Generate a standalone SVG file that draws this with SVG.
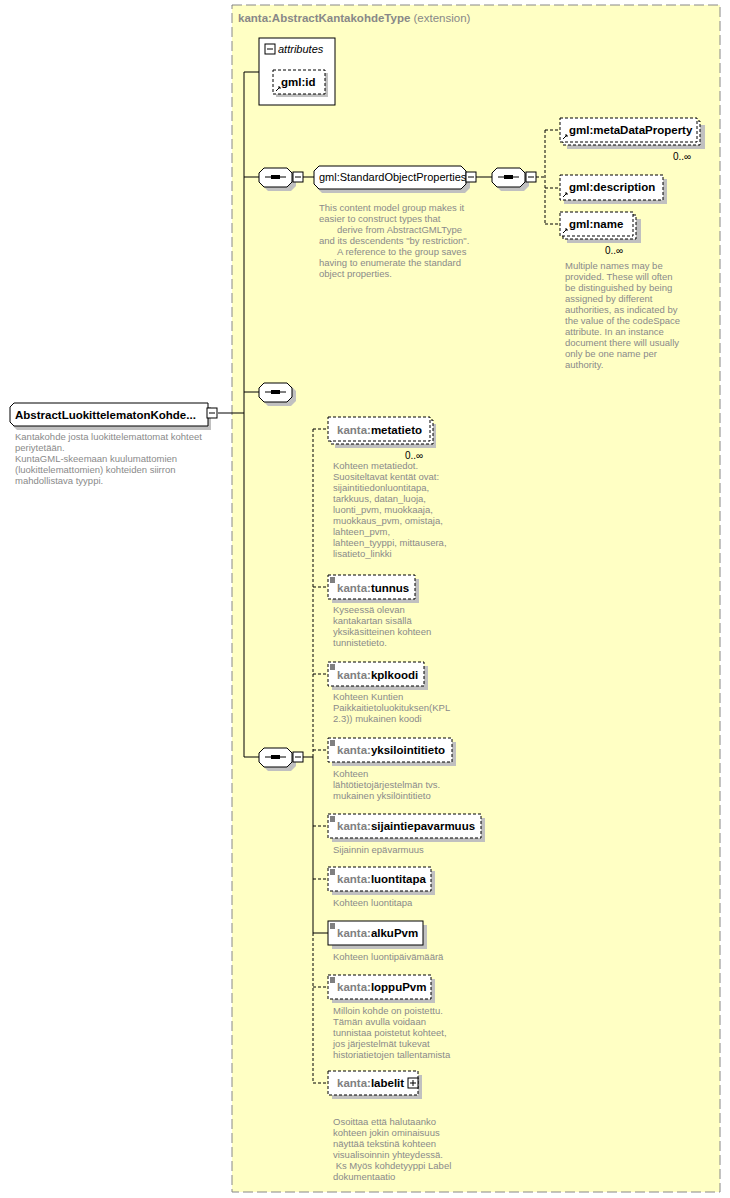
<svg xmlns="http://www.w3.org/2000/svg" width="730" height="1198" viewBox="0 0 730 1198">
<style>
text{font-family:"Liberation Sans",Arial,sans-serif}
.n{font-size:11.5px;font-weight:bold;fill:#000}
.p{fill:#808080}
.d{font-size:9.5px;fill:#8a8a8a}
.box{fill:#fff;stroke:#000;stroke-width:1}
.dash{stroke-dasharray:3,2}
.sh{fill:#c0c0c0}
.ln{stroke:#000;stroke-width:1;fill:none}
.dl{stroke:#000;stroke-width:1;fill:none;stroke-dasharray:3,2}
.btn{fill:#fff;stroke:#000}
</style>
<rect width="730" height="1198" fill="#fff"/>
<rect x="232" y="5" width="488" height="1187" fill="#ffffc4" stroke="#888" stroke-dasharray="10,4"/>
<text x="238" y="22" style="font-size:11.5px;font-weight:bold;fill:#888">kanta:AbstractKantakohdeType <tspan style="font-weight:normal">(extension)</tspan></text>

<g id="connectors">
<path class="ln" d="M244 72V757M244 72H259M244 177H259M244 392H259M244 757H259M218 413H244"/>
<path class="ln" d="M303 177H314M476 177H492"/>
<path class="dl" d="M536 177H545M545 130V224M545 130H560M545 188H560M545 224H560"/>
<path class="ln" d="M303 757H313M313 757V933H328"/>
<path class="dl" d="M313 429V757M313 933V1083M313 429H328M313 587H328M313 674H328M313 750H328M313 826H328M313 879H328M313 987H328M313 1083H328"/>
</g>

<g id="root">
<path class="sh" d="M17 407H211V430H17L13 426V411Z"/>
<path class="box" d="M14 403H208V426H14L10 422V407Z"/>
<text x="15" y="419" class="n">AbstractLuokittelematonKohde...</text>
<rect class="btn" x="207" y="408" width="10" height="10"/><path class="ln" d="M209 413H215"/>
<text class="d"><tspan x="15" y="440">Kantakohde josta luokittelemattomat kohteet</tspan><tspan x="15" y="451">periytetään.</tspan><tspan x="15" y="462">KuntaGML-skeemaan kuulumattomien</tspan><tspan x="15" y="473">(luokittelemattomien) kohteiden siirron</tspan><tspan x="15" y="484">mahdollistava tyyppi.</tspan></text>
</g>

<g id="attributes">
<rect class="box" x="259" y="38" width="76" height="67"/>
<rect class="btn" x="265" y="44" width="10" height="10"/><path class="ln" d="M267 49H273"/>
<text x="278" y="53" style="font-size:11px;font-style:italic">attributes</text>
<rect class="sh" x="276" y="73" width="52" height="24"/>
<rect class="box dash" x="273" y="70" width="52" height="24"/>
<text x="281" y="86" class="n">gml:id</text>
<path class="ln" d="M276 91L280 87M278 87H280V89" stroke-width="1.5"/>
</g>

<g id="seq1">
<path class="sh" d="M268 171H291L296 176V186L291 191H268L263 186V176Z"/>
<path class="box" d="M264 168H287L292 173V182L287 187H264L259 182V173Z"/>
<path class="ln" d="M265 177H286" stroke-width="1.5"/><rect x="271" y="175" width="9" height="4"/>
<rect class="btn" x="293" y="172" width="10" height="10"/><path class="ln" d="M295 177H301"/>
</g>

<g id="sop">
<path class="sh" d="M322 170H465L470 175V188L465 193H322L317 188V175Z"/>
<path class="box" d="M319 166H461L466 171V184L461 189H319L314 184V171Z"/>
<text x="319" y="181" style="font-size:11px">gml:StandardObjectProperties</text>
<rect class="btn" x="466" y="172" width="10" height="10"/><path class="ln" d="M468 177H474"/>
<text class="d"><tspan x="319" y="211">This content model group makes it</tspan><tspan x="319" y="222">easier to construct types that</tspan><tspan x="337" y="233">derive from AbstractGMLType</tspan><tspan x="319" y="244">and its descendents "by restriction".</tspan><tspan x="337" y="255">A reference to the group saves</tspan><tspan x="319" y="266">having to enumerate the standard</tspan><tspan x="319" y="277">object properties.</tspan></text>
</g>

<g id="seq2">
<path class="sh" d="M501 171H524L529 176V186L524 191H501L496 186V176Z"/>
<path class="box" d="M497 168H520L525 173V182L520 187H497L492 182V173Z"/>
<path class="ln" d="M498 177H519" stroke-width="1.5"/><rect x="504" y="175" width="9" height="4"/>
<rect class="btn" x="526" y="172" width="10" height="10"/><path class="ln" d="M528 177H534"/>
</g>

<g id="metaDataProperty">
<rect class="sh" x="567" y="125" width="138" height="24"/>
<rect class="box dash" x="563" y="121" width="137" height="24"/>
<rect class="box dash" x="560" y="118" width="137" height="24"/>
<text x="569" y="134" class="n">gml:metaDataProperty</text>
<path class="ln" d="M563 139L567 135M565 135H567V137" stroke-width="1.5"/>
<text x="673" y="160" style="font-size:10px">0..∞</text>
</g>
<g id="description">
<rect class="sh" x="564" y="179" width="103" height="25"/>
<rect class="box dash" x="560" y="175" width="103" height="25"/>
<text x="569" y="191" class="n">gml:description</text>
<path class="ln" d="M563 197L567 193M565 193H567V195" stroke-width="1.5"/>
</g>
<g id="name">
<rect class="sh" x="567" y="219" width="74" height="24"/>
<rect class="box dash" x="563" y="215" width="73" height="24"/>
<rect class="box dash" x="560" y="212" width="73" height="24"/>
<text x="569" y="228" class="n">gml:name</text>
<path class="ln" d="M563 233L567 229M565 229H567V231" stroke-width="1.5"/>
<text x="605" y="254" style="font-size:10px">0..∞</text>
<text class="d"><tspan x="565" y="269">Multiple names may be</tspan><tspan x="565" y="280">provided.  These will often</tspan><tspan x="565" y="291">be distinguished by being</tspan><tspan x="565" y="302">assigned by different</tspan><tspan x="565" y="313">authorities, as indicated by</tspan><tspan x="565" y="324">the value of the codeSpace</tspan><tspan x="565" y="335">attribute.  In an instance</tspan><tspan x="565" y="346">document there will usually</tspan><tspan x="565" y="357">only be one name per</tspan><tspan x="565" y="368">authority.</tspan></text>
</g>

<g id="seq3">
<path class="sh" d="M268 386H291L296 391V401L291 406H268L263 401V391Z"/>
<path class="box" d="M264 383H287L292 388V397L287 402H264L259 397V388Z"/>
<path class="ln" d="M265 392H286" stroke-width="1.5"/><rect x="271" y="390" width="9" height="4"/>
</g>

<g id="seq4">
<path class="sh" d="M268 751H291L296 756V766L291 771H268L263 766V756Z"/>
<path class="box" d="M264 748H287L292 753V762L287 767H264L259 762V753Z"/>
<path class="ln" d="M265 757H286" stroke-width="1.5"/><rect x="271" y="755" width="9" height="4"/>
<rect class="btn" x="293" y="752" width="10" height="10"/><path class="ln" d="M295 757H301"/>
</g>

<g id="metatieto">
<rect class="sh" x="335" y="424" width="101" height="24"/>
<rect class="box dash" x="331" y="420" width="102" height="24"/>
<rect class="box dash" x="328" y="417" width="102" height="24"/>
<text x="337" y="434" class="n"><tspan class="p">kanta:</tspan>metatieto</text>
<text x="405" y="459" style="font-size:10px">0..∞</text>
<text class="d"><tspan x="333" y="469">Kohteen metatiedot.</tspan><tspan x="333" y="480">Suositeltavat kentät ovat:</tspan><tspan x="333" y="491">sijaintitiedonluontitapa,</tspan><tspan x="333" y="502">tarkkuus, datan_luoja,</tspan><tspan x="333" y="513">luonti_pvm, muokkaaja,</tspan><tspan x="333" y="524">muokkaus_pvm, omistaja,</tspan><tspan x="333" y="535">lahteen_pvm,</tspan><tspan x="333" y="546">lahteen_tyyppi, mittausera,</tspan><tspan x="333" y="557">lisatieto_linkki</tspan></text>
</g>

<g id="tunnus">
<rect class="sh" x="332" y="579" width="87" height="24"/>
<rect class="box dash" x="328" y="575" width="87" height="24"/>
<path class="ln" d="M330 578H335M330 580H335M330 582H335"/>
<text x="337" y="592" class="n"><tspan class="p">kanta:</tspan>tunnus</text>
<text class="d"><tspan x="333" y="613">Kyseessä olevan</tspan><tspan x="333" y="624">kantakartan sisällä</tspan><tspan x="333" y="635">yksikäsitteinen kohteen</tspan><tspan x="333" y="646">tunnistetieto.</tspan></text>
</g>

<g id="kplkoodi">
<rect class="sh" x="332" y="666" width="96" height="24"/>
<rect class="box dash" x="328" y="662" width="96" height="24"/>
<path class="ln" d="M330 665H335M330 667H335M330 669H335"/>
<text x="337" y="679" class="n"><tspan class="p">kanta:</tspan>kplkoodi</text>
<text class="d"><tspan x="333" y="700">Kohteen Kuntien</tspan><tspan x="333" y="711">Paikkaitietoluokituksen(KPL</tspan><tspan x="333" y="722">2.3)) mukainen koodi</tspan></text>
</g>

<g id="yksilointitieto">
<rect class="sh" x="332" y="742" width="124" height="24"/>
<rect class="box dash" x="328" y="738" width="124" height="24"/>
<path class="ln" d="M330 741H335M330 743H335M330 745H335"/>
<text x="337" y="754" class="n"><tspan class="p">kanta:</tspan>yksilointitieto</text>
<text class="d"><tspan x="333" y="777">Kohteen</tspan><tspan x="333" y="788">lähtötietojärjestelmän  tvs.</tspan><tspan x="333" y="799">mukainen yksilöintitieto</tspan></text>
</g>

<g id="sijaintiepavarmuus">
<rect class="sh" x="332" y="818" width="153" height="24"/>
<rect class="box dash" x="328" y="814" width="153" height="24"/>
<path class="ln" d="M330 817H335M330 819H335M330 821H335"/>
<text x="337" y="830" class="n"><tspan class="p">kanta:</tspan>sijaintiepavarmuus</text>
<text class="d" x="333" y="853">Sijainnin epävarmuus</text>
</g>

<g id="luontitapa">
<rect class="sh" x="332" y="871" width="103" height="24"/>
<rect class="box dash" x="328" y="867" width="103" height="24"/>
<path class="ln" d="M330 870H335M330 872H335M330 874H335"/>
<text x="337" y="883" class="n"><tspan class="p">kanta:</tspan>luontitapa</text>
<text class="d" x="333" y="906">Kohteen luontitapa</text>
</g>

<g id="alkuPvm">
<rect class="sh" x="332" y="925" width="95" height="24"/>
<rect class="box" x="328" y="921" width="95" height="24"/>
<path class="ln" d="M330 924H335M330 926H335M330 928H335"/>
<text x="337" y="937" class="n"><tspan class="p">kanta:</tspan>alkuPvm</text>
<text class="d" x="333" y="960">Kohteen luontipäivämäärä</text>
</g>

<g id="loppuPvm">
<rect class="sh" x="332" y="979" width="103" height="24"/>
<rect class="box dash" x="328" y="975" width="103" height="24"/>
<path class="ln" d="M330 978H335M330 980H335M330 982H335"/>
<text x="337" y="991" class="n"><tspan class="p">kanta:</tspan>loppuPvm</text>
<text class="d"><tspan x="333" y="1014">Milloin kohde on poistettu.</tspan><tspan x="333" y="1025">Tämän avulla voidaan</tspan><tspan x="333" y="1036">tunnistaa poistetut kohteet,</tspan><tspan x="333" y="1047">jos järjestelmät tukevat</tspan><tspan x="333" y="1058">historiatietojen tallentamista</tspan></text>
</g>

<g id="labelit">
<rect class="sh" x="332" y="1075" width="90" height="24"/>
<rect class="box dash" x="328" y="1071" width="90" height="24"/>
<text x="337" y="1087" class="n"><tspan class="p">kanta:</tspan>labelit</text>
<rect class="btn" x="408" y="1078" width="10" height="10"/><path class="ln" d="M410 1083H416M413 1080V1086"/>
<text class="d"><tspan x="333" y="1125">Osoittaa että halutaanko</tspan><tspan x="333" y="1136">kohteen jokin ominaisuus</tspan><tspan x="333" y="1147">näyttää tekstinä kohteen</tspan><tspan x="333" y="1158">visualisoinnin yhteydessä.</tspan><tspan x="333" y="1169"> Ks Myös kohdetyyppi Label</tspan><tspan x="333" y="1180">dokumentaatio</tspan></text>
</g>
</svg>
